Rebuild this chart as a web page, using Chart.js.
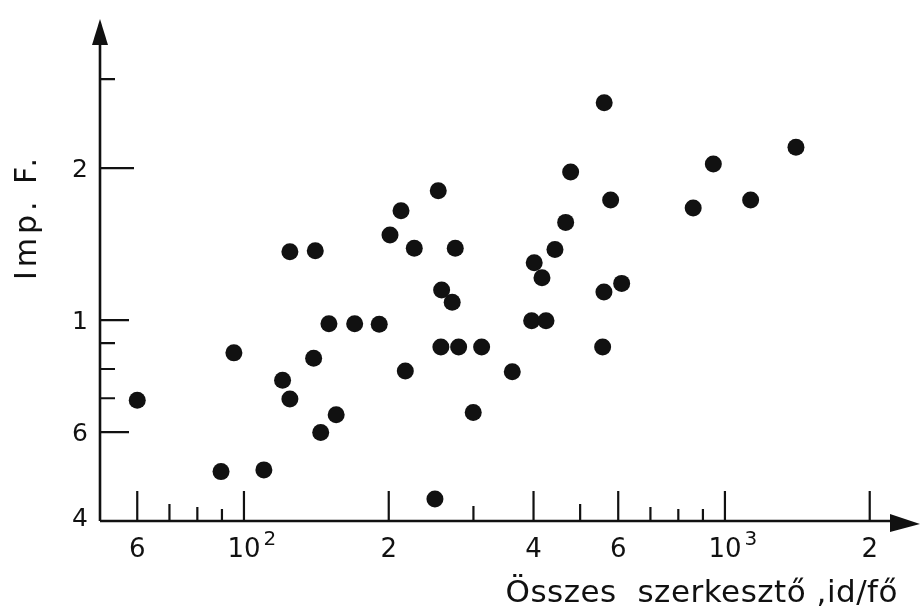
<!DOCTYPE html>
<html>
<head>
<meta charset="utf-8">
<script src="https://cdn.jsdelivr.net/npm/chart.js@4/dist/chart.umd.min.js"></script>
<style>
  html, body { margin: 0; padding: 0; background: #ffffff; }
  #wrap { width: 922px; height: 609px; position: relative; }
</style>
</head>
<body>
<div id="wrap"><canvas id="c" width="922" height="609"></canvas></div>
<script>
// ---- data ----
const xValues = [60, 95.3, 89.6, 110, 124.6, 140.7, 120.3, 124.6, 139.6, 150.2,
                 169.9, 191.1, 144.4, 155.5, 201.2, 212.1, 226, 253.5, 216.5, 257.6,
                 271, 275, 256.7, 279.5, 312, 249.5, 299.7, 361.3, 561, 1405,
                 946, 477.8, 578.6, 859, 1131, 466.5, 443.2, 401.3, 416.5, 560.3,
                 610, 396.4, 424.6, 556.9];
const yValues = [0.694, 0.861, 0.501, 0.505, 1.365, 1.372, 0.760, 0.698, 0.840, 0.983,
                 0.983, 0.981, 0.599, 0.649, 1.473, 1.646, 1.387, 1.803, 0.793, 1.147,
                 1.084, 1.387, 0.884, 0.884, 0.884, 0.442, 0.656, 0.790, 2.693, 2.198,
                 2.037, 1.964, 1.728, 1.666, 1.728, 1.561, 1.380, 1.299, 1.213, 1.136,
                 1.182, 0.997, 0.997, 0.884];

const xMajorTicks = [60, 100, 200, 400, 600, 1000, 2000];
const xMinorTicks = [70, 80, 90, 300, 500, 700, 800, 900];
const xTickLabels = ['6', '10', '2', '4', '6', '10', '2'];
const xTickExponents = ['', '2', '', '', '', '3', ''];

const yMajorTicks = [0.6, 1, 2];
const yMinorTicks = [0.7, 0.8, 0.9, 3];
const yLabelValues = [0.4, 0.6, 1, 2];
const yTickLabels = ['4', '6', '1', '2'];

const xTitle = 'Összes  szerkesztő ,id/fő';
const yTitle = 'Imp. F.';

const FONT = '"DejaVu Sans", "Liberation Sans", sans-serif';
const INK = '#111111';

const points = xValues.map((x, i) => ({ x: x, y: yValues[i] }));

// drawing styles for the hand-drawn looking axes
const minorTickLen = [17, 14, 12, 15, 17, 14, 12, 12];

const axesPlugin = {
  id: 'handAxes',
  afterDatasetsDraw(chart) {
    const ctx = chart.ctx;
    const xs = chart.scales.x, ys = chart.scales.y;
    const ca = chart.chartArea;
    const x0 = ca.left, y0 = ca.bottom;
    ctx.save();
    ctx.strokeStyle = INK;
    ctx.fillStyle = INK;
    ctx.lineWidth = 2.6;
    ctx.lineCap = 'butt';
    // axis lines
    ctx.beginPath();
    ctx.moveTo(x0, y0);
    ctx.lineTo(ca.right - 2, y0);
    ctx.moveTo(x0, y0);
    ctx.lineTo(x0, ca.top + 14);
    ctx.stroke();
    // arrowheads
    ctx.beginPath();
    ctx.moveTo(ca.right + 20, y0 + 3);
    ctx.lineTo(ca.right - 10, y0 - 7);
    ctx.lineTo(ca.right - 10, y0 + 11);
    ctx.closePath();
    ctx.fill();
    ctx.beginPath();
    ctx.moveTo(x0, ca.top - 11);
    ctx.lineTo(x0 - 8, ca.top + 15);
    ctx.lineTo(x0 + 8, ca.top + 15);
    ctx.closePath();
    ctx.fill();

    // x ticks
    ctx.lineWidth = 2.2;
    ctx.beginPath();
    xMajorTicks.forEach(v => {
      const px = xs.getPixelForValue(v);
      ctx.moveTo(px, y0);
      ctx.lineTo(px, y0 - 30);
    });
    xMinorTicks.forEach((v, i) => {
      const px = xs.getPixelForValue(v);
      ctx.moveTo(px, y0);
      ctx.lineTo(px, y0 - minorTickLen[i]);
    });
    // y ticks
    yMajorTicks.forEach(v => {
      const py = ys.getPixelForValue(v);
      ctx.moveTo(x0, py);
      ctx.lineTo(x0 + (v === 2 ? 34 : 29), py);
    });
    yMinorTicks.forEach(v => {
      const py = ys.getPixelForValue(v);
      ctx.moveTo(x0, py);
      ctx.lineTo(x0 + 15, py);
    });
    ctx.stroke();

    // x tick labels
    ctx.textBaseline = 'middle';
    xMajorTicks.forEach((v, i) => {
      const px = xs.getPixelForValue(v);
      ctx.font = '26px ' + FONT;
      ctx.textAlign = 'center';
      ctx.fillText(xTickLabels[i], px, y0 + 29);
      if (xTickExponents[i]) {
        const w = ctx.measureText(xTickLabels[i]).width;
        ctx.font = '20px ' + FONT;
        ctx.textAlign = 'left';
        ctx.fillText(xTickExponents[i], px + w / 2 + 3, y0 + 19);
      }
    });
    // y tick labels
    ctx.font = '25px ' + FONT;
    ctx.textAlign = 'center';
    yLabelValues.forEach((v, i) => {
      const py = ys.getPixelForValue(v);
      ctx.fillText(yTickLabels[i], x0 - 20, py + (v === 0.4 ? -2 : 2));
    });

    // axis titles
    ctx.font = '31px ' + FONT;
    if ('letterSpacing' in ctx) ctx.letterSpacing = '0.5px';
    ctx.textAlign = 'right';
    ctx.textBaseline = 'alphabetic';
    ctx.fillText(xTitle, ca.right - 2, 602);
    ctx.save();
    if ('letterSpacing' in ctx) ctx.letterSpacing = '4px';
    ctx.font = '30px ' + FONT;
    ctx.translate(28, 217);
    ctx.rotate(-Math.PI / 2);
    ctx.textAlign = 'center';
    ctx.textBaseline = 'middle';
    ctx.fillText(yTitle, 0, 0);
    ctx.restore();
    ctx.restore();
  }
};

new Chart(document.getElementById('c'), {
  type: 'scatter',
  data: {
    datasets: [{
      data: points,
      backgroundColor: INK,
      borderColor: INK,
      borderWidth: 0,
      pointRadius: 8.5,
      pointHoverRadius: 8.5,
      clip: false
    }]
  },
  options: {
    responsive: false,
    animation: false,
    events: [],
    layout: { padding: { left: 100, right: 22, top: 30, bottom: 88 } },
    plugins: { legend: { display: false }, tooltip: { enabled: false } },
    scales: {
      x: { type: 'logarithmic', min: 50.2, max: 2312, display: false },
      y: { type: 'logarithmic', min: 0.4, max: 3.753, display: false }
    }
  },
  plugins: [axesPlugin]
});
</script>
</body>
</html>
